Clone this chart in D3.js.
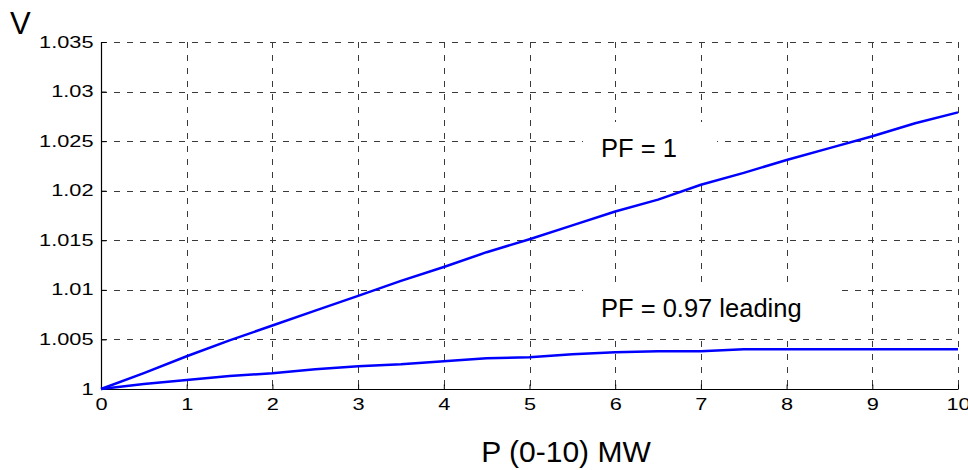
<!DOCTYPE html>
<html>
<head>
<meta charset="utf-8">
<script src="https://cdn.jsdelivr.net/npm/d3@7"></script>
<style>
  body { margin: 0; background: #fff; }
  svg { display: block; }
  text { font-family: "Liberation Sans", Arial, sans-serif; fill: #000; }
</style>
</head>
<body>
<div id="chart"></div>
<script>
// P in MW, step 0.5
var pValues = [0, 0.5, 1, 1.5, 2, 2.5, 3, 3.5, 4, 4.5, 5, 5.5, 6, 6.5, 7, 7.5, 8, 8.5, 9, 9.5, 10];
var vUnity = [1.0, 1.0016, 1.0033, 1.0049, 1.0064, 1.0079, 1.0094, 1.0109, 1.0123, 1.0138, 1.0151,
              1.0165, 1.0179, 1.0191, 1.0206, 1.0218, 1.0231, 1.0243, 1.0255, 1.0268, 1.0279];
var vLeading = [1.0, 1.0005, 1.0009, 1.0013, 1.0016, 1.0020, 1.0023, 1.0025, 1.0028, 1.0031, 1.0032,
                1.0035, 1.0037, 1.0038, 1.0038, 1.0040, 1.0040, 1.0040, 1.0040, 1.0040, 1.0040];
var xTicks = [0, 1, 2, 3, 4, 5, 6, 7, 8, 9, 10];
var yTicks = [1, 1.005, 1.01, 1.015, 1.02, 1.025, 1.03, 1.035];
var yTickLabels = ['1', '1.005', '1.01', '1.015', '1.02', '1.025', '1.03', '1.035'];

var width = 968, height = 470;
var plotLeft = 101, plotRight = 958, plotTop = 42, plotBottom = 389;

var svg = d3.select('#chart').append('svg')
    .attr('width', width)
    .attr('height', height);

var x = d3.scaleLinear().domain([0, 10]).range([plotLeft, plotRight]);
var y = d3.scaleLinear().domain([1, 1.035]).range([plotBottom, plotTop]);

// grid
var grid = svg.append('g').attr('id', 'grid')
    .attr('stroke', '#3a3a3a')
    .attr('stroke-width', 1)
    .attr('stroke-dasharray', '6,7');
grid.selectAll('.vgrid').data(xTicks.slice(1)).enter().append('line')
    .attr('x1', function (d) { return Math.round(x(d)) + 0.5; })
    .attr('x2', function (d) { return Math.round(x(d)) + 0.5; })
    .attr('y1', plotTop)
    .attr('y2', plotBottom);
grid.selectAll('.hgrid').data(yTicks.slice(1)).enter().append('line')
    .attr('y1', function (d) { return Math.round(y(d)) + 0.5; })
    .attr('y2', function (d) { return Math.round(y(d)) + 0.5; })
    .attr('x1', plotLeft)
    .attr('x2', plotRight);

// axes (ticks inward)
var xAxis = d3.axisBottom(x).tickValues(xTicks).tickSize(-5)
    .tickFormat(d3.format('d'));
var yAxis = d3.axisLeft(y).tickValues(yTicks).tickSize(-5)
    .tickFormat(function (d, i) { return yTickLabels[i]; });

var gx = svg.append('g')
    .attr('transform', 'translate(0,' + (Math.round(plotBottom) + 0.5) + ')')
    .call(xAxis);
var gy = svg.append('g')
    .attr('transform', 'translate(' + (Math.round(plotLeft) + 0.5) + ',0)')
    .call(yAxis);

[gx, gy].forEach(function (g) {
    g.attr('font-size', null).attr('font-family', null);
    g.select('.domain').attr('stroke', '#000').attr('stroke-width', 1.2);
    g.selectAll('.tick line').attr('stroke', '#000');
    g.selectAll('.tick text')
        .style('font-size', '17px')
        .attr('fill', '#000');
});
gx.select('.domain').attr('d', 'M' + plotLeft + ',0H' + plotRight);
gy.select('.domain').attr('d', 'M0,' + plotTop + 'V' + plotBottom);

// tick labels are drawn wide in the original
gx.selectAll('.tick text')
    .attr('dy', null)
    .attr('y', 21)
    .attr('x', 0)
    .attr('transform', 'scale(1.28,1)');
gy.selectAll('.tick text')
    .attr('dy', null)
    .attr('y', 5)
    .attr('x', -8 / 1.28)
    .attr('transform', 'scale(1.28,1)');

// annotation backgrounds
var notes = [
    { text: 'PF = 1', tx: 601, ty: 157, box: [583, 122, 134, 60] },
    { text: 'PF = 0.97 leading', tx: 601, ty: 317, box: [583, 282, 255, 54] }
];
svg.append('g').selectAll('rect').data(notes).enter().append('rect')
    .attr('x', function (d) { return d.box[0]; })
    .attr('y', function (d) { return d.box[1]; })
    .attr('width', function (d) { return d.box[2]; })
    .attr('height', function (d) { return d.box[3]; })
    .attr('fill', '#fff');

// curves
var line = d3.line()
    .x(function (d) { return x(d[0]); })
    .y(function (d) { return y(d[1]); });

[vUnity, vLeading].forEach(function (series) {
    svg.append('path')
        .datum(pValues.map(function (p, i) { return [p, series[i]]; }))
        .attr('d', line)
        .attr('fill', 'none')
        .attr('stroke', '#0000ff')
        .attr('stroke-width', 2.5)
        .attr('stroke-linejoin', 'round');
});

svg.append('g').selectAll('text').data(notes).enter().append('text')
    .attr('x', function (d) { return d.tx; })
    .attr('y', function (d) { return d.ty; })
    .attr('font-size', 25.5)
    .text(function (d) { return d.text; });

// axis titles
svg.append('text')
    .attr('x', 10)
    .attr('y', 34)
    .attr('font-size', 31)
    .text('V');

svg.append('text')
    .attr('x', 566)
    .attr('y', 462)
    .attr('text-anchor', 'middle')
    .attr('font-size', 30)
    .text('P (0-10) MW');
</script>
</body>
</html>
